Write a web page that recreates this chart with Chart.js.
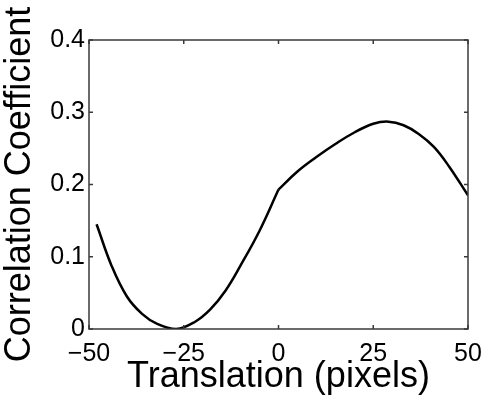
<!DOCTYPE html>
<html>
<head>
<meta charset="utf-8">
<script src="https://cdn.jsdelivr.net/npm/chart.js@4/dist/chart.umd.min.js"></script>
<style>
  body { margin: 0; background: #fff; }
  #wrap { width: 485px; height: 397px; position: relative; }
</style>
</head>
<body>
<div id="wrap"><canvas id="corrChart"></canvas></div>
<script>
// Correlation coefficient vs translation

// negative shifts (down to the minimum and back up to the kink at 0)
const leftX = [-48, -44, -40, -36, -32, -27, -22, -18, -14, -10, -5, 0];
const leftY = [0.145, 0.087, 0.045, 0.021, 0.007, 0, 0.01, 0.027, 0.053, 0.088, 0.136, 0.193];
// positive shifts
const rightX = [0, 5, 10, 15, 20, 25, 29, 33, 37, 41, 45, 50];
const rightY = [0.193, 0.218, 0.238, 0.256, 0.272, 0.284, 0.287, 0.282, 0.27, 0.252, 0.225, 0.185];

const xTicks = [-50, -25, 0, 25, 50];
const yTicks = [0, 0.1, 0.2, 0.3, 0.4];

const fontFamily = '"Liberation Sans", Arial, sans-serif';
const boxColor = '#3a3a3a';

// matlab style box with inward ticks
const boxPlugin = {
  id: 'box',
  afterDraw(chart) {
    const ctx = chart.ctx;
    const a = chart.chartArea;
    const xs = chart.scales.x, ys = chart.scales.y;
    const len = 4;
    ctx.save();
    ctx.strokeStyle = boxColor;
    ctx.lineWidth = 1.5;
    ctx.strokeRect(a.left, a.top, a.right - a.left, a.bottom - a.top);
    ctx.beginPath();
    xs.ticks.forEach(t => {
      const px = xs.getPixelForValue(t.value);
      ctx.moveTo(px, a.bottom); ctx.lineTo(px, a.bottom - len);
      ctx.moveTo(px, a.top); ctx.lineTo(px, a.top + len);
    });
    ys.ticks.forEach(t => {
      const py = ys.getPixelForValue(t.value);
      ctx.moveTo(a.left, py); ctx.lineTo(a.left + len, py);
      ctx.moveTo(a.right, py); ctx.lineTo(a.right - len, py);
    });
    ctx.stroke();
    ctx.restore();
  }
};

const toPoints = (xs, ys) => xs.map((x, i) => ({ x: x, y: ys[i] }));

const lineStyle = {
  borderColor: '#000',
  borderWidth: 2.5,
  pointRadius: 0,
  tension: 0.4,
  fill: false
};

new Chart(document.getElementById('corrChart'), {
  type: 'line',
  data: {
    datasets: [
      Object.assign({ data: toPoints(leftX, leftY) }, lineStyle),
      Object.assign({ data: toPoints(rightX, rightY) }, lineStyle)
    ]
  },
  options: {
    responsive: true,
    maintainAspectRatio: false,
    animation: false,
    layout: { padding: { top: 40, right: 17, left: 0, bottom: 0 } },
    plugins: { legend: { display: false }, tooltip: { enabled: false } },
    scales: {
      x: {
        type: 'linear',
        min: -50, max: 50,
        afterBuildTicks: s => { s.ticks = xTicks.map(v => ({ value: v })); },
        afterFit: s => { s.height = 68; s.paddingLeft = 0; s.paddingRight = 0; },
        grid: { display: false, drawTicks: false, tickLength: 0 },
        border: { display: false },
        ticks: {
          color: '#000', padding: 10, maxRotation: 0,
          font: { family: fontFamily, size: 25 },
          callback: v => v < 0 ? '\u2212' + Math.abs(v) : String(v)
        },
        title: {
          display: true, text: 'Translation (pixels)', color: '#000',
          font: { family: fontFamily, size: 36, lineHeight: 1.1 },
          padding: { top: 0, bottom: 0 }
        }
      },
      y: {
        min: 0, max: 0.4,
        afterBuildTicks: s => { s.ticks = yTicks.map(v => ({ value: v })); },
        afterFit: s => { s.width = 89; s.paddingTop = 0; s.paddingBottom = 0; },
        grid: { display: false, drawTicks: false, tickLength: 0 },
        border: { display: false },
        ticks: {
          color: '#000', padding: 4,
          font: { family: fontFamily, size: 25 },
          callback: v => v === 0 ? '0' : v.toFixed(1)
        },
        title: {
          display: true, text: 'Correlation Coefficient', color: '#000',
          font: { family: fontFamily, size: 36, lineHeight: 1.1 },
          padding: 0
        }
      }
    }
  },
  plugins: [boxPlugin]
});
</script>
</body>
</html>
